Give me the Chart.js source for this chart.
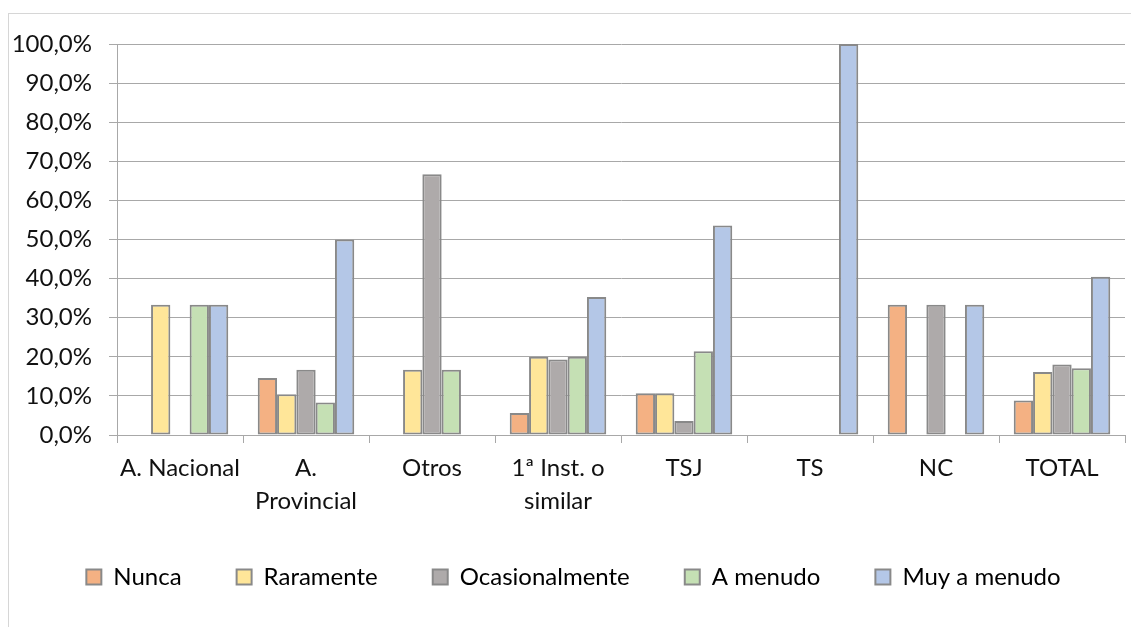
<!DOCTYPE html>
<html>
<head>
<meta charset="utf-8">
<script src="https://cdn.jsdelivr.net/npm/chart.js@4"></script>
<style>
  html, body { margin: 0; padding: 0; background: #fff; overflow: hidden; width: 1131px; height: 627px; }
  #frame { position: absolute; left: 8px; top: 13px; width: 1300px; height: 800px; border: 1px solid #d6d6d6; box-sizing: border-box; }
  #wrap { position: absolute; left: 0; top: 0; width: 1131px; height: 627px; }
</style>
</head>
<body>
<div id="frame"></div>
<div id="wrap"><canvas id="c" width="1131" height="627"></canvas></div>
<script>
const categories = ["A. Nacional", ["A.", "Provincial"], "Otros", ["1ª Inst. o", "similar"], "TSJ", "TS", "NC", "TOTAL"];
const seriesNames = ["Nunca", "Raramente", "Ocasionalmente", "A menudo", "Muy a menudo"];
const nunca          = [0,    14.6, 0,    5.6,  10.7, 0,   33.3, 8.8];
const raramente      = [33.3, 10.4, 16.7, 20.0, 10.7, 0,   0,    16.1];
const ocasionalmente = [0,    16.7, 66.7, 19.3, 3.6,  0,   33.3, 18.0];
const aMenudo        = [33.3, 8.3,  16.7, 20.0, 21.4, 0,   0,    17.1];
const muyAMenudo     = [33.3, 50.0, 0,    35.3, 53.6, 100, 33.3, 40.5];
const yTicks = [0, 10, 20, 30, 40, 50, 60, 70, 80, 90, 100];

const fills = ["#F4B183", "#FFE699", "#AEAAAA", "#C5E0B4", "#B4C7E7"];
const seriesValues = [nunca, raramente, ocasionalmente, aMenudo, muyAMenudo];

const FONT = "Lato";
const FS = 24;
const LEGEND_PAD = 55;

const datasets = seriesNames.map((name, i) => ({
  label: name,
  data: seriesValues[i],
  backgroundColor: fills[i],
  borderColor: "#898989",
  borderWidth: (ctx) => (ctx.raw === 0 ? 0 : 2),
  borderSkipped: false,
  barPercentage: 1.0,
  categoryPercentage: 0.766
}));

const legendShift = {
  id: "legendShift",
  afterLayout(chart) {
    const lg = chart.legend;
    if (!lg) return;
    lg.left += 11; lg.right += 11;
    const h = lg.height;
    lg.top = 577 - LEGEND_PAD - FS / 2;
    lg.bottom = lg.top + h;
  }
};

new Chart(document.getElementById("c"), {
  type: "bar",
  data: { labels: categories, datasets },
  plugins: [legendShift],
  options: {
    responsive: false,
    animation: false,
    devicePixelRatio: 1,
    layout: { padding: { left: 0, right: 6, top: 44, bottom: 18 } },
    plugins: {
      tooltip: { enabled: false },
      legend: {
        position: "bottom",
        align: "center",
        labels: {
          font: { family: FONT, size: FS },
          color: "#111",
          boxWidth: 15,
          boxHeight: 15,
          padding: LEGEND_PAD,
          generateLabels: (chart) => chart.data.datasets.map((ds, i) => ({
            text: ds.label,
            fillStyle: ds.backgroundColor,
            strokeStyle: "#898989",
            lineWidth: 2,
            datasetIndex: i,
            hidden: false
          }))
        }
      }
    },
    scales: {
      x: {
        offset: true,
        grid: { display: true, drawOnChartArea: false, drawTicks: true, tickLength: 8, color: "#a8a8a8", lineWidth: 1, offset: true },
        border: { display: true, color: "#a8a8a8", width: 1 },
        ticks: { font: { family: FONT, size: FS, lineHeight: 1.38 }, color: "#111", maxRotation: 0, autoSkip: false, padding: 9 },
        afterFit: (s) => { s.height = 85; }
      },
      y: {
        min: 0,
        max: 100,
        afterBuildTicks: (s) => { s.ticks = yTicks.map(v => ({ value: v })); },
        grid: { display: true, drawTicks: true, tickLength: 8, color: "#a8a8a8", lineWidth: 1 },
        border: { display: true, color: "#a8a8a8", width: 1 },
        ticks: {
          font: { family: FONT, size: FS },
          color: "#111",
          padding: 17,
          callback: (v) => v.toFixed(1).replace(".", ",") + "%"
        },
        afterFit: (s) => { s.width = 117; }
      }
    }
  }
});
</script>
</body>
</html>
